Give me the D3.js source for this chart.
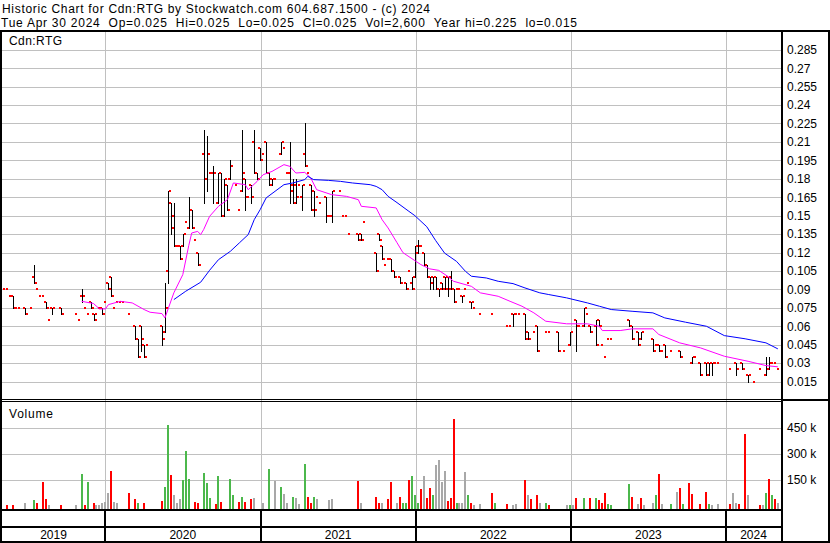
<!DOCTYPE html>
<html><head><meta charset="utf-8">
<script src="https://cdnjs.cloudflare.com/ajax/libs/d3/7.8.5/d3.min.js"></script>
<style>
html,body{margin:0;padding:0;background:#fff;overflow:hidden}
svg{display:block}
text{font-family:"Liberation Sans",Arial,sans-serif;font-size:12px;fill:#000}
</style></head><body>
<svg id="chart" width="830" height="543"></svg>
<script>
// ---------------- data ----------------
const titleLine1 = "Historic Chart for Cdn:RTG by Stockwatch.com 604.687.1500 - (c) 2024";
const titleLine2 = "Tue Apr 30 2024  Op=0.025  Hi=0.025  Lo=0.025  Cl=0.025  Vol=2,600  Year hi=0.225  lo=0.015";
const symbolLabel = "Cdn:RTG";
const volumeLabel = "Volume";
const firstWeek = new Date(2019, 4, 2);
const yearLabels = ["2019","2020","2021","2022","2023","2024"];
const priceTicks = [0.015,0.03,0.045,0.06,0.075,0.09,0.105,0.12,0.135,0.15,0.165,0.18,0.195,0.21,0.225,0.24,0.255,0.27,0.285];
const volumeTicks = [150000,300000,450000];
const volumeTickLabels = ["150 k","300 k","450 k"];

// weekly bars (week number from firstWeek)
const barWeek = [0,1,2,3,4,5,6,8,10,11, 12,13,14,15,16,17,20,25,26,27, 28,29,30,31,32,33,34,35,36,37, 38,39,40,41,43,45,46,47,48,49,
 54,55,56,57,58,59,60,61,62,63, 64,65,66,68,69,70,71,73,74,75, 76,77,79,80,81,82,83,84,85,86, 87,88,89,90,91,92,94,95,96,97,
 98,99,100,101,102,103,104,105,106,107, 109,110,111,114,115,116,117,120,121,122, 126,127,128,129,130,131,132,134,136,137,
 138,139,140,141,142,143,144,145,146,147, 148,149,150,151,152,153,154,155,156,157, 158,159,161,165,170,171,172,173,174,176,
 177,179,180,183,184,187,189,191,193,194, 196,197,198,200,201,202,203,204,205,211, 212,214,215,219,220,221,222,223,225,228,
 232,233,235,237,238,239,240,241,245,247, 249,251,253,255,257,258,259,260,261];
const barOpen = [.10,.09,.09,.085,.085,.075,.075,.075,.075,.10, .09,.085,.085,.08,.065,.075,.075,.07,.065,.085, .075,.07,.08,.07,.07,.075,.075,.08,.095,.10, .075,.08,.08,.08,.07,.06,.05,.06,.045,.045,
 .06,.055,.105,.16,.15,.125,.125,.125,.145,.14, .155,.13,.12,.20,.18,.185,.185,.16,.185,.15, .175,.18,.175,.155,.17,.18,.165,.175,.21,.185, .205,.20,.21,.185,.175,.18,.20,.205,.185,.185,
 .175,.175,.175,.165,.20,.185,.175,.17,.165,.16, .165,.15,.15,.17,.15,.15,.135,.135,.135,.145, .12,.135,.125,.11,.115,.115,.105,.10,.095,.105,
 .095,.10,.125,.125,.12,.11,.10,.10,.10,.09, .095,.10,.10,.10,.09,.09,.09,.085,.09,.095, .08,.075,.07,.07,.06,.06,.07,.07,.07,.07,
 .055,.055,.06,.055,.055,.055,.04,.045,.065,.06, .06,.07,.06,.06,.065,.045,.035,.05,.05,.065, .06,.055,.05,.05,.045,.045,.04,.045,.04,.04,
 .03,.035,.03,.03,.03,.03,.03,.03,.025,.03, .03,.02,.015,.025,.02,.025,.03,.03,.025];
const barHigh = [.10,.09,.09,.085,.085,.075,.075,.075,.075,.11, .09,.085,.085,.08,.065,.075,.075,.07,.065,.09, .075,.07,.08,.07,.07,.075,.075,.08,.095,.10, .075,.08,.08,.08,.07,.06,.05,.06,.045,.045,
 .06,.095,.17,.16,.16,.125,.125,.135,.145,.165, .155,.13,.12,.22,.215,.185,.19,.185,.185,.18, .175,.195,.175,.155,.22,.18,.165,.175,.22,.185, .205,.20,.21,.185,.18,.18,.21,.205,.185,.21,
 .18,.18,.175,.175,.225,.185,.175,.17,.165,.16, .165,.15,.17,.17,.15,.15,.135,.135,.135,.145, .12,.135,.125,.11,.115,.115,.105,.10,.095,.105,
 .10,.125,.13,.125,.12,.11,.10,.10,.10,.09, .095,.10,.10,.105,.09,.09,.09,.085,.09,.095, .08,.075,.07,.07,.06,.06,.07,.07,.07,.07,
 .055,.055,.06,.055,.055,.055,.04,.055,.065,.06, .075,.07,.06,.065,.065,.045,.035,.05,.05,.065, .06,.055,.055,.05,.045,.045,.04,.045,.04,.04,
 .035,.035,.03,.03,.03,.03,.03,.03,.025,.03, .03,.02,.015,.025,.035,.035,.03,.03,.025];
const barLow = [.10,.09,.09,.085,.075,.075,.075,.07,.075,.095, .09,.085,.085,.075,.065,.07,.07,.07,.065,.08, .075,.07,.075,.065,.07,.075,.07,.08,.09,.085, .075,.08,.08,.08,.07,.05,.035,.04,.035,.045,
 .045,.055,.095,.135,.125,.125,.115,.125,.145,.14, .14,.13,.11,.16,.17,.185,.16,.16,.15,.15, .155,.18,.175,.155,.17,.155,.165,.16,.185,.18, .195,.20,.185,.175,.175,.18,.20,.205,.185,.16,
 .16,.16,.175,.155,.19,.185,.155,.15,.165,.16, .145,.15,.145,.17,.15,.15,.135,.13,.13,.145, .105,.13,.115,.11,.115,.105,.10,.095,.09,.105,
 .09,.10,.12,.125,.11,.10,.09,.09,.09,.085, .09,.09,.085,.09,.08,.09,.09,.08,.09,.095, .075,.075,.07,.07,.06,.06,.06,.07,.07,.05,
 .05,.055,.04,.055,.055,.04,.04,.045,.04,.06, .06,.07,.055,.045,.06,.045,.035,.05,.05,.06, .05,.045,.05,.04,.045,.04,.04,.035,.04,.035,
 .03,.035,.02,.02,.02,.02,.03,.03,.025,.02, .025,.015,.015,.025,.02,.025,.03,.03,.025];
const barClose = [.10,.09,.09,.085,.075,.075,.075,.07,.075,.095, .09,.085,.085,.075,.065,.075,.07,.07,.065,.085, .075,.07,.075,.065,.07,.075,.07,.08,.09,.085, .075,.08,.08,.08,.07,.05,.035,.05,.035,.045,
 .05,.075,.17,.14,.125,.125,.115,.135,.145,.155, .14,.13,.11,.18,.20,.185,.185,.185,.15,.18, .155,.19,.175,.155,.185,.165,.165,.165,.185,.18, .195,.20,.185,.18,.18,.18,.21,.205,.185,.17,
 .16,.165,.175,.175,.19,.185,.155,.155,.165,.16, .15,.15,.17,.17,.15,.15,.135,.13,.13,.145, .105,.13,.115,.11,.115,.105,.10,.095,.09,.105,
 .09,.12,.125,.125,.11,.10,.095,.10,.09,.09, .09,.09,.09,.09,.08,.09,.09,.085,.09,.095, .08,.075,.07,.07,.06,.06,.07,.07,.07,.05,
 .05,.055,.04,.055,.055,.04,.04,.055,.06,.06, .075,.07,.055,.045,.06,.045,.035,.05,.05,.06, .05,.045,.055,.04,.045,.04,.04,.035,.04,.035,
 .035,.035,.02,.02,.03,.03,.03,.03,.025,.025, .025,.02,.015,.025,.025,.03,.03,.03,.025];

// moving averages (week number, value)
const maShortWeek = [27,31,33,35,36,40,44,48,50,54, 55,58,61,63,64,66,67,68,70,73, 76,78,82,83,86,88,91,95,97,99,
 102,104,106,111,116,120,121,126,128,130, 133,135,139,141,144,147,150,152,158,161, 167,171,175,179,183,190,197,201,202,208, 212,219,221,228,235,243,251,257,261];
const maShortValue = [.0803,.0785,.0741,.0741,.0776,.0803,.079,.0736,.0714,.0703, .0668,.0872,.102,.1256,.1359,.1372,.1346,.1386,.1494,.1576,
 .163,.1766,.1752,.1711,.1779,.1833,.186,.1915,.1901,.1847, .1852,.1807,.1711,.1671,.1657,.163,.1576,.1563,.1467,.14,
 .128,.1199,.1134,.1102,.1067,.1055,.1007,.0966,.0925,.0872, .0844,.0803,.0763,.0709,.0641,.062,.062,.06,.0565,.0565, .0579,.0579,.0533,.0465,.0424,.0356,.0315,.028,.027];
const maLongWeek = [58,62,67,70,73,77,80,83,85,87, 89,92,95,98,102,103,105,110,114,118, 124,126,128,130,133,137,139,143,146,149,
 153,156,158,163,167,172,176,181,184,190, 197,201,205,212,219,223,230,237,243,250, 257,261];
const maLongValue = [.0817,.0885,.0958,.1055,.1142,.121,.1278,.1346,.1467,.1549, .1644,.1698,.1752,.1766,.1793,.182,.1793,.1787,.1779,.1766,
 .1752,.1738,.1711,.1657,.1606,.1535,.15,.141,.1297,.1195, .1128,.1047,.1007,.0993,.0966,.0947,.0912,.0872,.0858,.0831,
 .079,.0763,.0736,.0722,.0709,.0668,.0633,.06,.0524,.0498, .0465,.0416];

// weekly volume: week, thousands of shares, colour class (g up, r down, n unchanged)
const volWeek = [0,2,4,8,11,12,14,15,16,20, 25,27,28,29,31,32,33,34,35,36, 37,38,39,43,45,46,48,54,55,56, 57,58,59,60,61,62,63,65,66,68,
 69,70,72,73,74,77,78,80,81,82, 84,85,88,90,92,94,95,96,98,99, 100,102,103,104,105,106,110,111,120,121, 126,127,128,130,131,133,134,135,136,137,
 138,139,140,141,142,143,144,145,146,147, 148,149,150,151,152,153,154,155,156,157, 158,159,161,165,166,170,172,173,176,177,
 178,180,181,183,184,190,191,192,193,196, 198,200,201,202,203,204,205,211,212,214, 215,216,219,220,221,222,225,227,228,229,
 231,232,235,237,238,239,241,245,246,247, 248,250,251,255,256,257,258,259,260,261];
const volValue = [15,8,7,15,35,15,141,41,8,8, 6,186,6,138,18,8,8,20,25,77, 200,25,20,74,41,17,17,30,109,465, 178,66,20,40,151,320,155,25,20,190,
 132,45,10,174,25,155,66,25,50,25, 41,45,20,213,145,112,70,15,50,45, 10,244,50,20,50,40,35,40,147,15, 52,20,20,40,140,15,52,20,20,151,
 174,64,20,99,174,45,106,66,238,267, 140,200,30,45,500,20,15,15,194,66, 20,8,12,73,15,10,8,12,151,66,
 40,64,18,15,8,8,8,8,45,48, 45,48,35,15,73,10,5,128,52,10, 48,8,15,64,186,10,10,79,106,12,
 135,70,10,81,10,8,10,12,76,15, 10,413,64,5,5,73,155,66,41,15];
const volDir = ["n","r","r","n","g","r","r","r","n","r", "n","g","r","g","r","n","n","n","n","n", "r","n","n","r","r","g","r","r","g","g",
 "r","n","n","n","g","g","g","r","r","g", "g","g","r","g","r","g","g","r","g","r", "r","n","n","g","n","g","n","n","g","n",
 "n","g","r","r","g","n","n","n","r","n", "r","r","n","r","r","n","r","g","g","r", "g","g","g","r","n","r","r","g","n","n",
 "n","n","r","r","r","g","n","n","n","g", "r","n","n","r","g","r","n","n","r","n", "r","r","n","g","r","n","g","n","r","g",
 "r","g","r","r","r","g","g","g","r","n", "r","n","n","g","r","n","g","n","r","g", "r","r","r","r","g","n","n","r","n","n",
 "r","r","n","r","n","g","r","g","r","n"];

// ---------------- drawing ----------------
const svg = d3.select("#chart");
const L = 2, R = 781;
const priceTop = 31, priceBottom = 399, volTop = 402, volBottom = 509;
const x = d3.scaleTime().domain([new Date(2020,0,1), new Date(2024,0,1)]).range([105, 726]);
const weekDate = w => d3.timeDay.offset(firstWeek, 7 * w);
const wx = w => Math.round(x(weekDate(w)));
const y = d3.scaleLinear().domain([0, 0.3]).range([400, 31.3]);
const yv = d3.scaleLinear().domain([0, 600000]).range([506, 402]);
const yearStarts = yearLabels.slice(1).map(s => new Date(+s, 0, 1));
const grid = "#c0c0c0";
const colours = {g: "#4cb84c", r: "#ff0000", n: "#a8a8a8"};
const FONT = '"Liberation Sans",Arial,sans-serif';

svg.append("rect").attr("width", 830).attr("height", 543).attr("fill", "#fff");

// horizontal grids
svg.append("g").selectAll("line").data(priceTicks).join("line")
  .attr("x1", L).attr("x2", R)
  .attr("y1", d => Math.round(y(d)) + 0.5).attr("y2", d => Math.round(y(d)) + 0.5)
  .attr("stroke", grid);
svg.append("g").selectAll("line").data(volumeTicks).join("line")
  .attr("x1", L).attr("x2", R)
  .attr("y1", d => Math.round(yv(d)) + 0.5).attr("y2", d => Math.round(yv(d)) + 0.5)
  .attr("stroke", grid);
// vertical year grids in both panels
svg.append("g").selectAll("line").data(yearStarts).join("line")
  .attr("x1", d => Math.round(x(d)) + 0.5).attr("x2", d => Math.round(x(d)) + 0.5)
  .attr("y1", priceTop).attr("y2", volBottom).attr("stroke", grid);

// price bars
const bars = barWeek.map((w, k) => ({w, o: barOpen[k], h: barHigh[k], l: barLow[k], c: barClose[k]}));
const gBars = svg.append("g");
gBars.selectAll("rect.hl").data(bars.filter(b => b.h > b.l)).join("rect").attr("class", "hl")
  .attr("x", b => wx(b.w)).attr("width", 1)
  .attr("y", b => Math.round(y(b.h)))
  .attr("height", b => Math.round(y(b.l)) - Math.round(y(b.h)) + 1)
  .attr("fill", "#000");
gBars.selectAll("rect.op").data(bars.filter(b => b.h > b.l)).join("rect").attr("class", "op")
  .attr("x", b => wx(b.w) - 2).attr("width", 2)
  .attr("y", b => Math.round(y(b.o)) - 1).attr("height", 2).attr("fill", "#ff0000");
gBars.selectAll("rect.cl").data(bars).join("rect").attr("class", "cl")
  .attr("x", b => b.h > b.l ? wx(b.w) + 1 : wx(b.w) - 1).attr("width", 2)
  .attr("y", b => Math.round(y(b.c)) - 1).attr("height", 2).attr("fill", "#ff0000");

// moving averages
const line = d3.line().x(d => x(weekDate(d[0]))).y(d => y(d[1]));
svg.append("path").datum(maShortWeek.map((w, k) => [w, maShortValue[k]]))
  .attr("d", line).attr("fill", "none").attr("stroke", "#ff00ff").attr("stroke-width", 1);
svg.append("path").datum(maLongWeek.map((w, k) => [w, maLongValue[k]]))
  .attr("d", line).attr("fill", "none").attr("stroke", "#0000ff").attr("stroke-width", 1);

// volume bars
const vols = volWeek.map((w, k) => ({w, v: volValue[k] * 1000, d: volDir[k]}));
svg.append("g").selectAll("rect").data(vols).join("rect")
  .attr("x", d => wx(d.w) - 1).attr("width", 2)
  .attr("y", d => Math.min(Math.round(yv(d.v)), volBottom - 2))
  .attr("height", d => volBottom - Math.min(Math.round(yv(d.v)), volBottom - 2))
  .attr("fill", d => colours[d.d]);

// frame lines
const black = (x0, y0, w, h) => svg.append("rect").attr("x", x0).attr("y", y0).attr("width", w).attr("height", h).attr("fill", "#000");
black(0, 30, 830, 2);        // top
black(0, 30, 2, 513);        // left
black(781, 30, 2, 513);      // right of plot
black(828, 30, 2, 513);      // right border
black(0, 399, 781, 1);       // double separator
black(0, 401, 781, 1);
black(781, 399, 49, 2);
black(0, 509, 783, 2);       // axis band
black(0, 526, 783, 2);
black(0, 541, 830, 2);       // bottom
svg.append("g").selectAll("rect").data(yearStarts).join("rect")
  .attr("x", d => Math.round(x(d)) - 1).attr("width", 2)
  .attr("y", volBottom).attr("height", 543 - volBottom).attr("fill", "#000");

// axes labels
const yAxis = d3.axisRight(y).tickValues(priceTicks).tickSize(0).tickPadding(5)
  .tickFormat(d => String(+d.toFixed(3)));
svg.append("g").attr("transform", "translate(782,0)").call(yAxis)
  .call(g => g.select(".domain").remove())
  .selectAll("text").attr("font-size", 12).attr("font-family", FONT).attr("fill", "#000");
const vAxis = d3.axisRight(yv).tickValues(volumeTicks).tickSize(0).tickPadding(5)
  .tickFormat((d, i) => volumeTickLabels[i]);
svg.append("g").attr("transform", "translate(782,0)").call(vAxis)
  .call(g => g.select(".domain").remove())
  .selectAll("text").attr("font-size", 12).attr("font-family", FONT).attr("fill", "#000");

// year labels
const bounds = [L].concat(yearStarts.map(d => x(d))).concat([R]);
svg.append("g").selectAll("text").data(yearLabels).join("text")
  .attr("x", (d, i) => (bounds[i] + bounds[i + 1]) / 2).attr("y", 539)
  .attr("text-anchor", "middle").text(d => d);

// titles: widen letter spacing so each string spans the same width as in the original
function fitted(str, x0, y0, width) {
  const t = svg.append("text").attr("x", x0).attr("y", y0).style("white-space", "pre").text(str);
  const natural = t.node().getComputedTextLength();
  const n = Math.max(1, str.length - 1);
  t.attr("letter-spacing", ((width - natural) / n).toFixed(3));
  return t;
}
fitted(titleLine1, 2, 13, 428);
fitted(titleLine2, 1, 27, 576);
fitted(symbolLabel, 9, 45, 53);
fitted(volumeLabel, 9, 418, 44);
</script>
</body></html>
